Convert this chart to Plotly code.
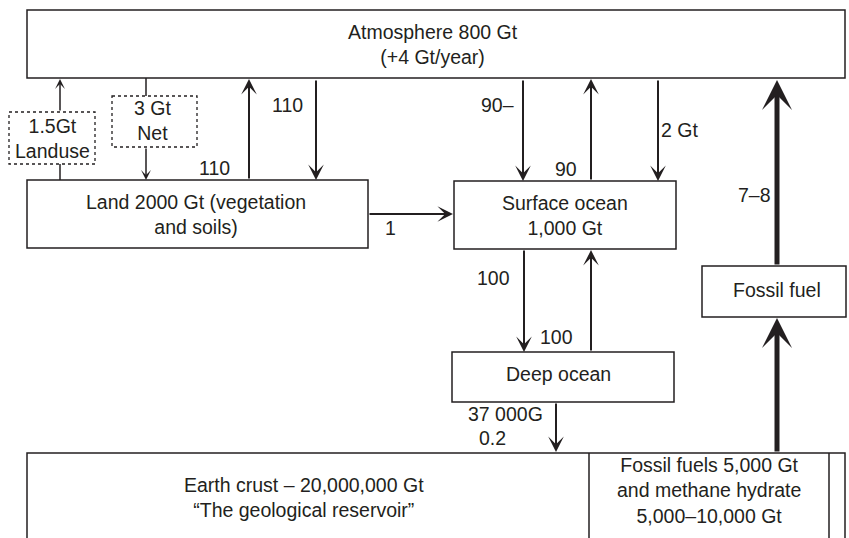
import plotly.graph_objects as go

# ---------------- data (text content of the diagram) ----------------
reservoir_names = ["atmosphere", "land", "surface", "deep", "fossil_fuel", "crust", "fossil_store"]
reservoir_labels = [
    "Atmosphere 800 Gt<br>(+4 Gt/year)",
    "Land 2000 Gt (vegetation<br>and soils)",
    "Surface ocean<br>1,000 Gt",
    "Deep ocean",
    "Fossil fuel",
    "Earth crust – 20,000,000 Gt<br>“The geological reservoir”",
    "Fossil fuels 5,000 Gt<br>and methane hydrate<br>5,000–10,000 Gt",
]
flow_labels = ["1.5Gt<br>Landuse", "3 Gt<br>Net", "110", "110", "90–", "90",
               "2 Gt", "7–8", "1", "100", "100", "37 000G", "0.2"]

# ---------------- layout geometry (page-pixel axis units) ----------------
W, H = 849, 538
box_geom = {  # x0, x1, y0, y1
    "atmosphere": (27, 845, 10, 78),
    "land": (27, 368, 180, 248),
    "surface": (454, 676, 181, 249),
    "deep": (452, 674, 352, 402),
    "fossil_fuel": (702, 846, 266, 317),
}
label_pos = {  # centre of text block
    "atmosphere": (433, 44),
    "land": (196, 214),
    "surface": (565, 215),
    "deep": (558, 374),
    "fossil_fuel": (777, 290),
    "crust": (304, 497),
    "fossil_store": (709, 490),
}
dotted_boxes = [(9, 95, 112, 164), (112, 197, 96, 147)]
flow_pos = [(52, 138.5), (152, 120), (214, 168), (287, 104.5), (497, 104.5), (566, 168.5),
            (679, 129.5), (754, 195), (390, 227.5), (493, 277.5), (556.5, 336.5),
            (505.5, 414), (492.5, 437.5)]
# arrows: tail (x, y) -> tip (x, y), line width, head size
arrows = [
    ((60, 112), (60, 79), 1.5, 1.1),
    ((146, 147), (146, 180), 1.5, 1.1),
    ((249, 180), (249, 79), 2, 1.3),
    ((316, 79), (316, 180), 2, 1.3),
    ((523, 79), (523, 181), 2, 1.3),
    ((591, 181), (591, 79), 2, 1.3),
    ((658, 79), (658, 181), 2, 1.3),
    ((777, 266), (777, 80), 5, 1.0),
    ((368, 214), (453, 214), 2, 1.3),
    ((524, 249), (524, 352), 2, 1.3),
    ((591, 352), (591, 250), 2, 1.3),
    ((777, 453), (777, 318), 5, 1.0),
    ((556, 402), (556, 452), 2, 1.3),
]
plain_lines = [((60, 180), (60, 164), 1.5), ((146, 78), (146, 96), 1.5)]

INK = "#231f20"
FONT = dict(family="Liberation Sans, Arial, sans-serif", size=19.5, color=INK)

fig = go.Figure()
fig.add_trace(go.Scatter(x=[0, W], y=[0, H], mode="markers",
                         marker=dict(opacity=0), hoverinfo="skip", showlegend=False))

shapes = []
for name, (x0, x1, y0, y1) in box_geom.items():
    shapes.append(dict(type="rect", xref="x", yref="y", x0=x0, x1=x1, y0=y0, y1=y1,
                       line=dict(color=INK, width=1.5), fillcolor="white", layer="below"))
# earth crust (open at bottom) with fossil fuel store dividers
shapes.append(dict(type="path", xref="x", yref="y",
                   path="M27,548 L27,453 L845,453 L845,548",
                   line=dict(color=INK, width=1.5)))
for xv in (589, 829):
    shapes.append(dict(type="line", xref="x", yref="y", x0=xv, x1=xv, y0=453, y1=548,
                       line=dict(color=INK, width=1.5)))
for (a, b), (c, d), w in plain_lines:
    shapes.append(dict(type="line", xref="x", yref="y", x0=a, y0=b, x1=c, y1=d,
                       line=dict(color=INK, width=w)))
for (x0, x1, y0, y1) in dotted_boxes:
    shapes.append(dict(type="rect", xref="x", yref="y", x0=x0, x1=x1, y0=y0, y1=y1,
                       line=dict(color=INK, width=1.3, dash="dot"), fillcolor="white"))

annotations = []
for (tail, tip, w, s) in arrows:
    annotations.append(dict(x=tip[0], y=tip[1], ax=tail[0], ay=tail[1],
                            xref="x", yref="y", axref="x", ayref="y",
                            text="", showarrow=True, arrowhead=3, arrowsize=s,
                            arrowwidth=w, arrowcolor=INK, standoff=0))
for name, text in zip(reservoir_names, reservoir_labels):
    x, y = label_pos[name]
    annotations.append(dict(x=x, y=y, xref="x", yref="y", text=text, showarrow=False,
                            xanchor="center", yanchor="middle", align="center", font=FONT))
for text, (x, y) in zip(flow_labels, flow_pos):
    annotations.append(dict(x=x, y=y, xref="x", yref="y", text=text, showarrow=False,
                            xanchor="center", yanchor="middle", align="center", font=FONT))

fig.update_layout(
    width=W, height=H, margin=dict(l=0, r=0, t=0, b=0),
    paper_bgcolor="white", plot_bgcolor="white",
    xaxis=dict(range=[0, W], visible=False, fixedrange=True),
    yaxis=dict(range=[H, 0], visible=False, fixedrange=True),
    shapes=shapes, annotations=annotations, showlegend=False,
)
fig.write_html(
    "out.html",
    config={"displayModeBar": False},
    post_script="document.body.style.margin='0';document.body.style.overflow='hidden';",
)
